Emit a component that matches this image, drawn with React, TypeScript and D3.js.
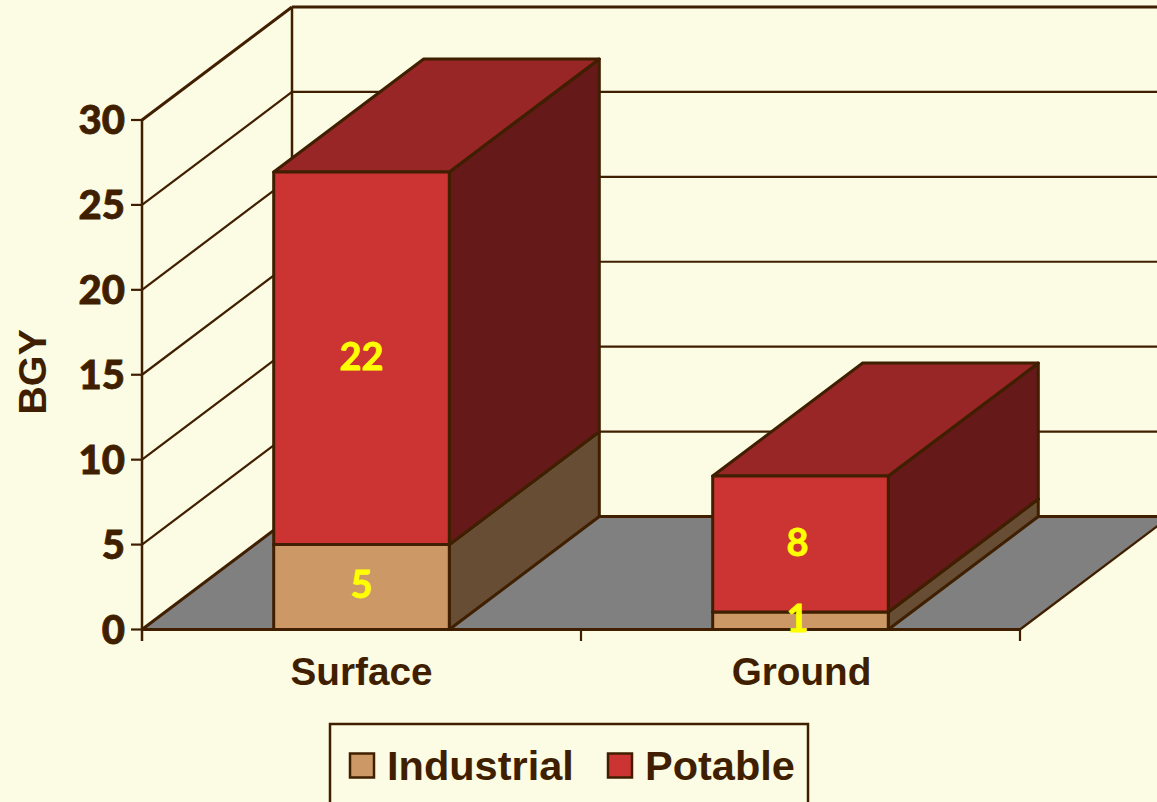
import React from "react";
import * as d3 from "d3";

const categories = ["Surface", "Ground"];
const industrial = [5, 1.03];
const potable = [21.94, 8.01];
const industrialLabels = ["5", "1"];
const potableLabels = ["22", "8"];
const yTicks = [0, 5, 10, 15, 20, 25, 30];
const legendItems = ["Industrial", "Potable"];

const W = 1157, H = 802;
const ink = "#3f1f00";
const bg = "#fcfbe3";
const tanC = { front: "#cc9966", side: "#664d33", top: "#996633" };
const redC = { front: "#cc3333", side: "#661919", top: "#992626" };
const tickFont = "Lato, 'Open Sans', sans-serif";
const sans = "'Liberation Sans', Arial, sans-serif";

const x = d3.scaleBand<string>().domain(categories).range([142, 1020]).paddingInner(0.6).paddingOuter(0.3);
const y = d3.scaleLinear().domain([0, 30]).range([629.5, 120]);
const dx = 150, dy = -113;
const line = d3.line();

function poly(pts: [number, number][]) {
  return line(pts) + "Z";
}

function Box({ x0, x1, y0, y1, c }: { x0: number; x1: number; y0: number; y1: number; c: typeof tanC }) {
  const common = { stroke: ink, strokeWidth: 3, strokeLinejoin: "round" as const };
  return (
    <g>
      <path d={poly([[x1, y0], [x1 + dx, y0 + dy], [x1 + dx, y1 + dy], [x1, y1]])} fill={c.side} {...common} />
      <path d={poly([[x0, y1], [x1, y1], [x1 + dx, y1 + dy], [x0 + dx, y1 + dy]])} fill={c.top} {...common} />
      <path d={poly([[x0, y0], [x1, y0], [x1, y1], [x0, y1]])} fill={c.front} {...common} />
    </g>
  );
}

export default function App() {
  return (
    <svg width={W} height={H} viewBox={`0 0 ${W} ${H}`} style={{ position: "absolute", left: 0, top: 0, display: "block", background: bg }}>
      <path d={poly([[142, y(0)], [1020, y(0)], [1020 + dx, y(0) + dy], [142 + dx, y(0) + dy]])} fill="#808080" stroke="none" />
      {yTicks.map((t) => (
        <g key={t} stroke={ink}>
          <line x1={142} y1={y(t)} x2={142 + dx} y2={y(t) + dy} strokeWidth={t === 30 || t === 0 ? 3 : 2.2} />
          <line x1={142 + dx} y1={y(t) + dy} x2={W} y2={y(t) + dy} strokeWidth={t === 30 || t === 0 ? 3 : 2.2} />
          <line x1={131} y1={y(t)} x2={142} y2={y(t)} strokeWidth={2.2} />
        </g>
      ))}
      <line x1={142 + dx} y1={y(30) + dy} x2={142 + dx} y2={y(0) + dy} stroke={ink} strokeWidth={2.5} />
      <line x1={142} y1={y(30)} x2={142} y2={641} stroke={ink} strokeWidth={2.5} />
      <line x1={1020} y1={y(0)} x2={1020 + dx} y2={y(0) + dy} stroke={ink} strokeWidth={2.2} />
      <line x1={142} y1={y(0)} x2={1020} y2={y(0)} stroke={ink} strokeWidth={3} />
      {[581, 1020].map((px) => (
        <line key={px} x1={px} y1={y(0)} x2={px} y2={641} stroke={ink} strokeWidth={2.2} />
      ))}
      {categories.map((cat, i) => {
        const x0 = x(cat)!;
        const x1 = x0 + x.bandwidth();
        const a = industrial[i], b = a + potable[i];
        const lx = (x0 + x1) / 2 - (i === 0 ? 0 : 3);
        return (
          <g key={cat}>
            <Box x0={x0} x1={x1} y0={y(0)} y1={y(a)} c={tanC} />
            <Box x0={x0} x1={x1} y0={y(a)} y1={y(b)} c={redC} />
            <text x={lx} y={(y(0) + y(a)) / 2 + 11} textAnchor="middle" fontFamily={tickFont} fontWeight={700} fontSize={38} fill="#ffff00" stroke="#ffff00" strokeWidth={0.8}>{industrialLabels[i]}</text>
            <text x={lx} y={(y(a) + y(b)) / 2 + 12} textAnchor="middle" fontFamily={tickFont} fontWeight={700} fontSize={38} fill="#ffff00" stroke="#ffff00" strokeWidth={0.8}>{potableLabels[i]}</text>
            <text x={(x0 + x1) / 2 + (i === 0 ? 0 : 1)} y={685} textAnchor="middle" fontFamily={sans} fontWeight={700} fontSize={38.7} fill={ink}>{cat}</text>
          </g>
        );
      })}
      {yTicks.map((t) => (
        <text key={t} x={125} y={y(t) + 14} textAnchor="end" fontFamily={tickFont} fontWeight={900} fontSize={40} fill={ink} stroke={ink} strokeWidth={0.8}>{t}</text>
      ))}
      <text transform="translate(46,372) rotate(-90)" textAnchor="middle" fontFamily={sans} fontWeight={700} fontSize={39.5} fill={ink}>BGY</text>
      <rect x={330} y={724} width={478} height={100} fill={bg} stroke={ink} strokeWidth={2.5} />
      {legendItems.map((name, i) => {
        const sx = [350, 608][i];
        const c = i === 0 ? tanC : redC;
        return (
          <g key={name}>
            <rect x={sx} y={753.5} width={24} height={24} fill={c.front} stroke={ink} strokeWidth={2.5} />
            <text x={sx + 37} y={780} fontFamily={sans} fontWeight={700} fontSize={41.5} fill={ink}>{name}</text>
          </g>
        );
      })}
    </svg>
  );
}
